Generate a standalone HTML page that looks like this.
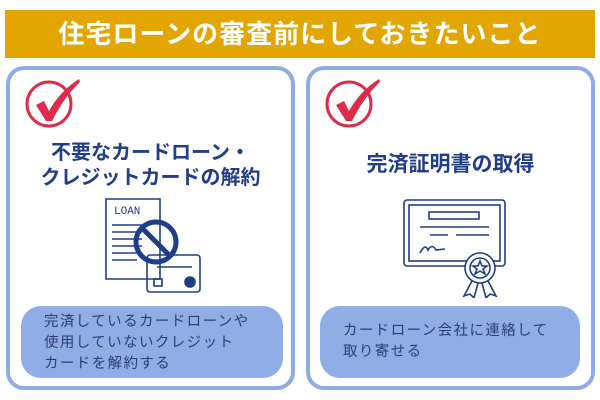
<!DOCTYPE html>
<html><head><meta charset="utf-8"><style>
*{margin:0;padding:0;box-sizing:border-box}
body{width:600px;height:400px;background:#fff;position:relative;overflow:hidden;font-family:"Liberation Sans","Noto Sans CJK JP",sans-serif}
.hdr{position:absolute;left:5px;top:10px;width:590px;height:48px;background:#e3a500;color:#fff;font-size:26px;font-weight:bold;text-align:center;line-height:48px;letter-spacing:1px}
.box{position:absolute;top:66px;width:289px;height:324px;border:4px solid #8eabe8;border-radius:18px;background:#fff}
.t{position:absolute;left:0;width:100%;text-align:center;color:#1f3d88;font-weight:bold}
.pill{position:absolute;top:236px;height:72px;background:#91ade6;border-radius:20px;color:#2b3d73;font-size:14.5px;letter-spacing:1.4px;line-height:21px;padding:6px 0 0 23px}
.ck{position:absolute;left:12px;top:5px}
</style></head><body>
<div class="hdr">住宅ローンの審査前にしておきたいこと</div>

<div class="box" style="left:6px">
<svg class="ck" width="62" height="56" viewBox="0 0 62 56"><circle cx="27" cy="29" r="22" fill="none" stroke="#e02a4b" stroke-width="3"/><path d="M14 30 L22 26 L27 36 Q38 16 57 4 L58 7 Q42 22 30 46 L24 46 Z" fill="#e02a4b"/></svg>
<div class="t" style="top:71px;font-size:20px;line-height:25px">不要なカードローン・<br>クレジットカードの解約</div>
<svg style="position:absolute;left:92px;top:127px" width="100" height="100" viewBox="0 0 100 100" fill="none" stroke="#1f3d88" stroke-width="1.6">
<path d="M4 2 H58 V82 H4 Z"/><text x="12" y="17" font-size="11" fill="#1f3d88" stroke="none" font-family="Liberation Mono">LOAN</text>
<path d="M10 28H40M10 35H40M10 42H40M10 49H40M10 56H40M10 63H35"/>
<circle cx="54" cy="45" r="20" stroke-width="5"/><path d="M40 31 L68 59" stroke-width="5"/>
<rect x="45" y="58" width="53" height="37" rx="3"/><path d="M55 70H90"/><rect x="52" y="82" width="8" height="7"/><circle cx="88" cy="85" r="5" fill="#1f3d88"/>
</svg>
<div class="pill" style="left:11px;width:262px">完済しているカードローンや<br>使用していないクレジット<br>カードを解約する</div>
</div>

<div class="box" style="left:306px">
<svg class="ck" width="62" height="56" viewBox="0 0 62 56"><circle cx="27" cy="29" r="22" fill="none" stroke="#e02a4b" stroke-width="3"/><path d="M14 30 L22 26 L27 36 Q38 16 57 4 L58 7 Q42 22 30 46 L24 46 Z" fill="#e02a4b"/></svg>
<div class="t" style="top:82px;font-size:21px;line-height:26px">完済証明書の取得</div>
<svg style="position:absolute;left:90px;top:128px" width="110" height="100" viewBox="0 0 110 100" fill="none" stroke="#1f3d88" stroke-width="1.6">
<rect x="4" y="2" width="101" height="66" rx="3"/><rect x="9" y="7" width="91" height="56"/>
<rect x="29" y="14" width="50" height="7"/><path d="M20 29H89M30 37H48M56 37H89M20 55 Q25 45 28 52 Q32 45 36 52 L45 51"/>
<circle cx="80" cy="70" r="15" fill="#fff"/><circle cx="80" cy="70" r="10"/><path d="M80 63 L82 68 L87 68 L83 71 L85 76 L80 73 L75 76 L77 71 L73 68 L78 68 Z"/>
<path d="M72 83 L64 98 L70 96 L74 100 L78 85 M88 83 L96 98 L90 96 L86 100 L82 85"/>
</svg>
<div class="pill" style="left:10px;width:260px;padding-top:15px">カードローン会社に連絡して<br>取り寄せる</div>
</div>
</body></html>
